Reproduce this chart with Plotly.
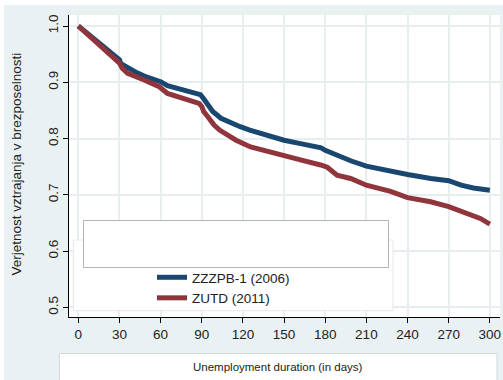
import plotly.graph_objects as go

# ---- data ----
days_a = [0, 5, 14, 28, 30, 31, 36, 42, 48, 58, 60, 65, 77, 86, 89, 91, 94, 98, 104, 110, 118, 125, 133, 140,
          150, 162, 177, 180, 189, 199, 210, 228, 240, 257, 270, 279, 288, 300]
surv_a = [1.0, 0.99, 0.972, 0.944, 0.940, 0.933, 0.925, 0.918, 0.911, 0.904, 0.901, 0.894, 0.886, 0.880,
          0.878, 0.872, 0.860, 0.848, 0.836, 0.829, 0.821, 0.815, 0.809, 0.803, 0.797, 0.791, 0.7835, 0.779,
          0.769, 0.760, 0.751, 0.741, 0.736, 0.729, 0.725, 0.717, 0.712, 0.708]

days_b = [0, 5, 14, 28, 30, 32, 36, 48, 59, 65, 77, 88, 90, 91.4, 94, 99, 103, 108.5, 115, 125.6, 130, 137.7,
          150, 162, 176.6, 181.5, 188.6, 198.5, 210, 227.6, 240, 256.8, 270, 283, 293, 300]
surv_b = [1.0, 0.989, 0.971, 0.9395, 0.934, 0.925, 0.916, 0.904, 0.892, 0.880, 0.871, 0.8625, 0.857, 0.848,
          0.840, 0.824, 0.815, 0.806, 0.797, 0.785, 0.782, 0.778, 0.769, 0.762, 0.753, 0.749, 0.735, 0.729,
          0.717, 0.706, 0.695, 0.6875, 0.679, 0.666, 0.658, 0.648]

name_a = "ZZZPB-1 (2006)"
name_b = "ZUTD (2011)"
x_ticks = [0, 30, 60, 90, 120, 150, 180, 210, 240, 270, 300]
y_ticks = [0.5, 0.6, 0.7, 0.8, 0.9, 1.0]
y_tick_text = ["0.5", "0.6", "0.7", "0.8", "0.9", "1.0"]
x_title = "Unemployment duration (in days)"
y_title = "Verjetnost vztrajanja v brezposelnosti"

# ---- layout geometry ----
W, H = 503, 380
L, R, T, B = 69, 3, 15, 63
PW, PH = W - L - R, H - T - B
BG = "#eaf1f3"
GRID = "#e6eef0"
FONT = "Liberation Sans, Arial, sans-serif"


def px(x):
    return (x - L) / PW


def py(y):
    return (H - B - y) / PH


fig = go.Figure()
fig.add_trace(go.Scatter(x=days_a, y=surv_a, mode="lines", name=name_a,
                         line=dict(color="#1a476f", width=5)))
fig.add_trace(go.Scatter(x=days_b, y=surv_b, mode="lines", name=name_b,
                         line=dict(color="#90353b", width=5)))

shapes = [
    # white outer strips
    dict(type="rect", xref="paper", yref="paper", x0=px(0), x1=px(4), y0=py(0), y1=py(H),
         fillcolor="white", line=dict(width=0), layer="below"),
    dict(type="rect", xref="paper", yref="paper", x0=px(0), x1=px(W), y0=py(0), y1=py(5),
         fillcolor="white", line=dict(width=0), layer="below"),
    # legend back box
    dict(type="rect", xref="paper", yref="paper", x0=px(73.3), x1=px(393), y0=py(240), y1=py(310.7),
         fillcolor="white", line=dict(color="#e4e8ea", width=1), layer="above"),
    # empty framed box
    dict(type="rect", xref="paper", yref="paper", x0=px(83.5), x1=px(388.5), y0=py(220.5), y1=py(267.5),
         fillcolor="white", line=dict(color="#b4b4b4", width=1), layer="above"),
    # x title box
    dict(type="rect", xref="paper", yref="paper", x0=px(59.5), x1=px(497), y0=py(353.5), y1=py(383),
         fillcolor="white", line=dict(color="#d4d8da", width=1), layer="above"),
]

annotations = [
    dict(text=x_title, xref="paper", yref="paper", x=px(277.5), y=py(366.5), showarrow=False,
         xanchor="center", yanchor="middle", font=dict(family=FONT, size=11.5, color="#222")),
    dict(text=y_title, xref="paper", yref="paper", x=px(15.5), y=py(164), showarrow=False, textangle=-90,
         xanchor="center", yanchor="middle", font=dict(family=FONT, size=13.5, color="#222")),
]

fig.update_layout(
    width=W, height=H,
    margin=dict(l=L, r=R, t=T, b=B, pad=0),
    paper_bgcolor=BG, plot_bgcolor="white",
    font=dict(family=FONT, size=13, color="#222"),
    shapes=shapes, annotations=annotations,
    showlegend=True,
    legend=dict(x=px(152), y=py(262), xanchor="left", yanchor="top", bgcolor="rgba(0,0,0,0)",
                borderwidth=0, font=dict(family=FONT, size=13.5, color="#222"),
                tracegroupgap=0, itemwidth=30),
)
fig.update_xaxes(range=[-6.78, 307.4], tickvals=x_ticks, showgrid=True, gridcolor=GRID, gridwidth=2,
                 zeroline=False, showline=True, linecolor="black", linewidth=1, ticks="outside",
                 ticklen=5, tickcolor="black", tickfont=dict(family=FONT, size=13.5, color="#222"))
fig.update_yaxes(range=[0.48276, 1.01955], tickvals=y_ticks, ticktext=y_tick_text, tickangle=-90,
                 showgrid=True, gridcolor=GRID, gridwidth=2, zeroline=False, showline=True,
                 linecolor="black", linewidth=1, ticks="outside", ticklen=5, tickcolor="black",
                 tickfont=dict(family=FONT, size=13.5, color="#222"))

fig.write_html("out.html")
